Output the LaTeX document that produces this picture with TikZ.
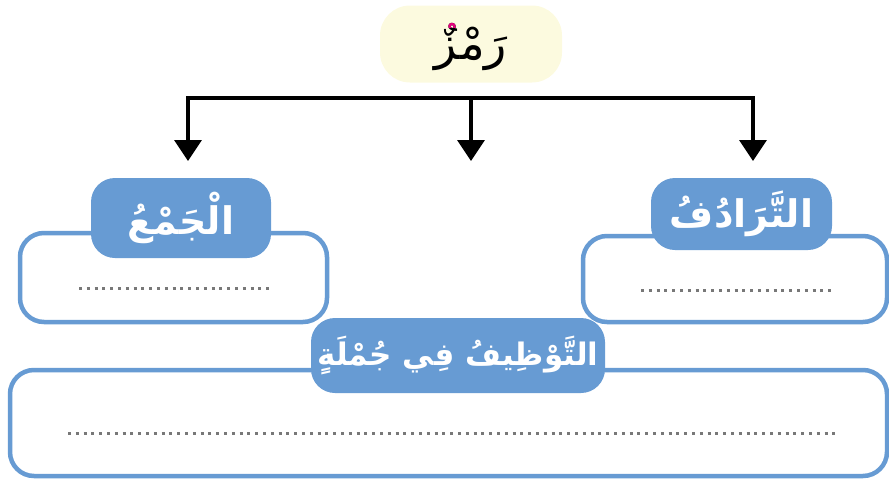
\documentclass[tikz,border=0pt]{standalone}
\usepackage{fontspec}
\usetikzlibrary{arrows.meta}
\TeXXeTstate=1
\newfontfamily\arabicfont[Script=Arabic]{DejaVu Sans}
\definecolor{boxblue}{RGB}{103,155,211}
\definecolor{titlefill}{RGB}{252,250,223}
\definecolor{tanween}{RGB}{230,0,126}
\definecolor{dotgray}{RGB}{120,120,120}

\begin{document}
\begin{tikzpicture}[x=1pt,y=-1pt,line cap=butt,>={Triangle[width=27pt,length=21pt]},
		title/.style={rounded corners=30pt,fill=titlefill,minimum width=182pt,minimum height=77pt},
		wordfont/.style={font=\arabicfont\fontsize{46}{48}\selectfont},
		tag/.style={rounded corners=24pt,fill=boxblue,text=white,inner sep=0pt,
			font=\arabicfont\bfseries\fontsize{38}{40}\selectfont},
		answer/.style={draw=boxblue,line width=4.5pt,rounded corners=24pt,fill=white,inner sep=0pt},
		link/.style={line width=3.5pt,black},
		dots/.style={dotgray,line width=3pt,dash pattern=on 3pt off 4.8pt}]
		\useasboundingbox (0,0) rectangle (889,479);
		% title word
		\node[title] (word) at (471,44) {};
		\node[wordfont] (wordtxt) at (471,47) {\beginR رَمْزٌ\endR};
		\begin{scope}
			\clip (420,0) rectangle (460,27);
			\node[wordfont,text=tanween] at (471,47) {\beginR رَمْزٌ\endR};
		\end{scope}
		% connectors
		\coordinate (hub) at (471,98);
		\coordinate (tipL) at (188,161);
		\coordinate (tipM) at (471,161);
		\coordinate (tipR) at (753,161);
		\draw[link,<->] (tipL) |- (hub) -| (tipR);
		\draw[link,->] (hub) -- (tipM);
		% answer boxes
		\node[answer,minimum width=307pt,minimum height=89pt] (jamBox) at (173.5,277.5) {};
		\node[answer,minimum width=304pt,minimum height=86pt] (tarBox) at (735,279) {};
		\node[answer,minimum width=877pt,minimum height=106pt] (jumBox) at (448.5,423) {};
		% labels
		\node[tag,minimum width=180pt,minimum height=80pt] (jam) at (181,218) {\beginR الْجَمْعُ\endR};
		\node[tag,minimum width=181pt,minimum height=72pt] (tar) at (741.5,214) {\beginR التَّرَادُفُ\endR};
		\node[tag,minimum width=294pt,minimum height=75pt,font=\arabicfont\bfseries\fontsize{31}{33}\selectfont] (jum) at (458,355.5) {\beginR التَّوْظِيفُ فِي جُمْلَةٍ\endR};
		% dotted answer lines
		\draw[dots] (79,288) -- (271,288);
		\draw[dots] (641,290) -- (834,290);
		\draw[dots] (68,433) -- (838,433);
	\end{tikzpicture}
\end{document}
